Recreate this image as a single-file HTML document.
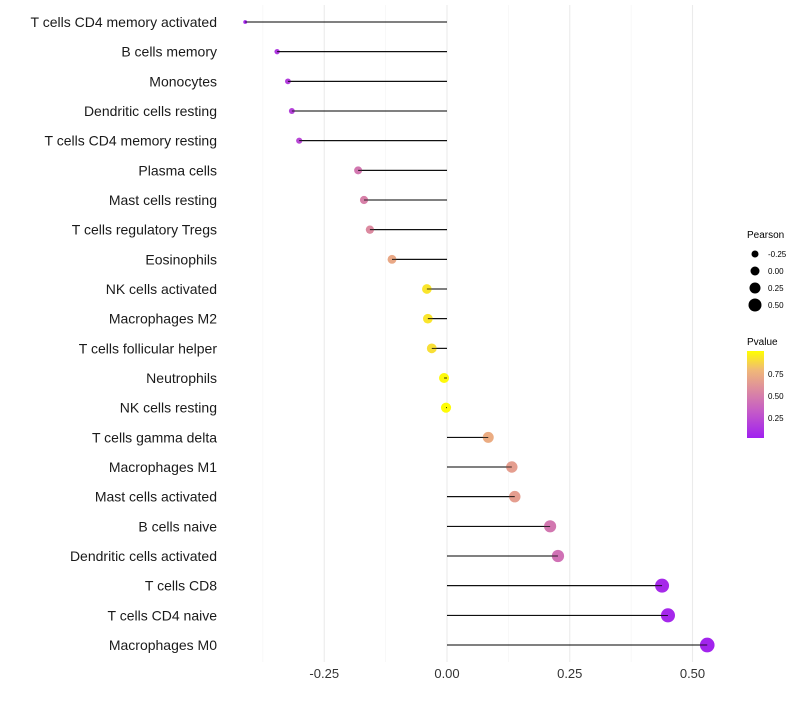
<!DOCTYPE html>
<html><head><meta charset="utf-8"><style>
body{margin:0;background:#fff;}
svg text{font-family:"Liberation Sans",sans-serif;}
</style></head><body>
<svg id="chart" width="800" height="700" xmlns="http://www.w3.org/2000/svg">
<defs><linearGradient id="pg" x1="0" y1="1" x2="0" y2="0">
<stop offset="0" stop-color="#A020F0"/><stop offset="0.3" stop-color="#C45AC8"/><stop offset="0.55" stop-color="#DC8AA0"/><stop offset="0.78" stop-color="#F0B878"/><stop offset="1" stop-color="#FFFF00"/>
</linearGradient></defs>
<g id="grid"></g>
<g id="marks"></g>
<g id="ylabels"></g>
<g id="xlabels"></g>
<g>
<text x="747" y="238" font-size="10" fill="#000">Pearson</text>
<circle cx="755" cy="254" r="3.5" fill="#000"/><text x="768" y="257" font-size="8" fill="#000">-0.25</text>
<circle cx="755" cy="271" r="4.5" fill="#000"/><text x="768" y="274" font-size="8" fill="#000">0.00</text>
<circle cx="755" cy="288" r="5.5" fill="#000"/><text x="768" y="291" font-size="8" fill="#000">0.25</text>
<circle cx="755" cy="305" r="6.5" fill="#000"/><text x="768" y="308" font-size="8" fill="#000">0.50</text>
</g>
<g>
<text x="747" y="345" font-size="10" fill="#000">Pvalue</text>
<rect x="747" y="351" width="17" height="87" fill="url(#pg)"/>
<text x="768" y="377" font-size="8" fill="#000">0.75</text>
<text x="768" y="399" font-size="8" fill="#000">0.50</text>
<text x="768" y="421" font-size="8" fill="#000">0.25</text>
</g>
</svg>
<script>
const categories=["T cells CD4 memory activated","B cells memory","Monocytes","Dendritic cells resting","T cells CD4 memory resting","Plasma cells","Mast cells resting","T cells regulatory  Tregs ","Eosinophils","NK cells activated","Macrophages M2","T cells follicular helper","Neutrophils","NK cells resting","T cells gamma delta","Macrophages M1","Mast cells activated","B cells naive","Dendritic cells activated","T cells CD8","T cells CD4 naive","Macrophages M0"];
const pearson=[-0.411,-0.346,-0.324,-0.316,-0.301,-0.181,-0.169,-0.157,-0.112,-0.041,-0.039,-0.031,-0.006,-0.002,0.084,0.132,0.138,0.210,0.226,0.438,0.450,0.530];
const pvalue=[0.03,0.12,0.15,0.17,0.2,0.45,0.5,0.55,0.7,0.92,0.92,0.9,0.98,0.99,0.72,0.65,0.65,0.45,0.42,0.05,0.04,0.02];
const xticks=[-0.25,0,0.25,0.5];
const xtickLabels=["-0.25","0.00","0.25","0.50"];
const NS="http://www.w3.org/2000/svg";
const x=v=>447+v*491;
const y=i=>22+i*29.667;
const r=v=>Math.sqrt(Math.max(1,25.6+53.3*v));
function col(p){const st=[[0,[160,32,240]],[0.3,[196,90,200]],[0.55,[220,138,160]],[0.78,[240,184,120]],[1,[255,255,0]]];
for(let k=1;k<st.length;k++){if(p<=st[k][0]){const t=(p-st[k-1][0])/(st[k][0]-st[k-1][0]);const a=st[k-1][1],b=st[k][1];return`rgb(${a.map((c,j)=>Math.round(c+(b[j]-c)*t)).join(',')})`;}}return'rgb(255,255,0)';}
function mk(t,a,p){const e=document.createElementNS(NS,t);for(const k in a)e.setAttribute(k,a[k]);p.appendChild(e);return e;}
const grid=document.getElementById('grid'),marks=document.getElementById('marks'),yl=document.getElementById('ylabels'),xl=document.getElementById('xlabels');
[-0.375,-0.125,0.125,0.375].forEach(v=>{const l=mk('line',{x1:x(v),x2:x(v),y1:5,y2:662,stroke:'#f4f4f4','stroke-width':0.6},grid);});
xticks.forEach((v,i)=>{const l=mk('line',{x1:x(v),x2:x(v),y1:5,y2:662,stroke:'#ebebeb','stroke-width':1.1},grid);
const t=mk('text',{x:x(v),y:678,'font-size':13,'text-anchor':'middle',fill:'#333'},xl);t.textContent=xtickLabels[i];});
categories.forEach((c,i)=>{const t=mk('text',{x:217,y:y(i)+5,'font-size':14,'text-anchor':'end',fill:'#1a1a1a'},yl);t.textContent=c;
const l=mk('line',{x1:x(0),x2:x(pearson[i]),y1:y(i),y2:y(i),stroke:'#000','stroke-width':1},marks);
const p=mk('circle',{cx:x(pearson[i]),cy:y(i),r:r(pearson[i]),fill:col(pvalue[i])},marks);
const l2=mk('line',{x1:x(0),x2:x(pearson[i]),y1:y(i),y2:y(i),stroke:'#000','stroke-width':0.8},marks);});
</script>
</body></html>
